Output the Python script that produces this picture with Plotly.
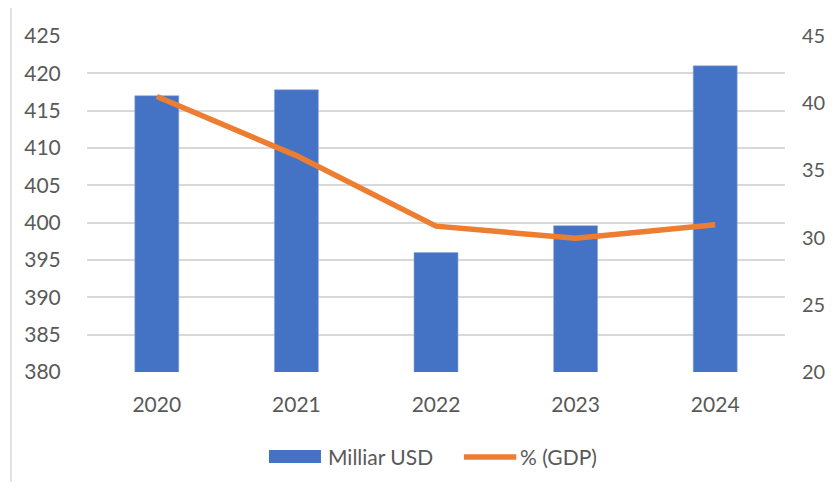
import plotly.graph_objects as go

years = ["2020", "2021", "2022", "2023", "2024"]
milliar_usd = [417.0, 417.8, 396.0, 399.6, 421.0]
pct_gdp = [40.5, 36.1, 30.85, 29.95, 30.95]
bar_name = "Milliar USD"
line_name = "% (GDP)"
left_ticks = [380, 385, 390, 395, 400, 405, 410, 415, 420, 425]
right_ticks = [20, 25, 30, 35, 40, 45]

BAR_COLOR = "#4472C4"
LINE_COLOR = "#ED7D31"
TEXT_COLOR = "#595959"
GRID_COLOR = "#D9D9D9"
FONT = "Lato"
FS = 21

fig = go.Figure()
fig.add_trace(go.Bar(x=years, y=milliar_usd, name=bar_name,
                     marker=dict(color=BAR_COLOR, line=dict(color="#8FAADC", width=0.6)),
                     showlegend=False))
fig.add_trace(go.Scatter(x=years, y=pct_gdp, name=line_name, mode="lines",
                         line=dict(color=LINE_COLOR, width=5.5),
                         yaxis="y2", showlegend=False))

# Manual legend (paper coordinates)
fig.add_shape(type="rect", xref="paper", yref="paper",
              x0=0.2607, x1=0.3352, y0=-0.2708, y1=-0.2321,
              fillcolor=BAR_COLOR, line=dict(width=0))
fig.add_annotation(xref="paper", yref="paper", x=0.3420, y=-0.2515,
                   text=bar_name, showarrow=False, xanchor="left", yanchor="middle",
                   font=dict(family=FONT, size=FS, color=TEXT_COLOR))
fig.add_shape(type="line", xref="paper", yref="paper",
              x0=0.5400, x1=0.6150, y0=-0.2530, y1=-0.2530,
              line=dict(color=LINE_COLOR, width=5.5))
fig.add_annotation(xref="paper", yref="paper", x=0.6180, y=-0.2515,
                   text=line_name, showarrow=False, xanchor="left", yanchor="middle",
                   font=dict(family=FONT, size=FS, color=TEXT_COLOR))

# Chart area border (only left and top edges are visible in the crop)
fig.add_shape(type="path", xref="paper", yref="paper",
              path="M -0.1089,-0.60 L -0.1089,1.0863 L 1.30,1.0863",
              line=dict(color="#D9D9D9", width=1.5), layer="below")

fig.update_layout(
    width=819, height=474,
    margin=dict(l=79, r=42, t=28, b=110, autoexpand=False),
    paper_bgcolor="white", plot_bgcolor="white",
    font=dict(family=FONT, size=FS, color=TEXT_COLOR),
    bargap=0.685,
    showlegend=False,
    xaxis=dict(showgrid=False, showline=False, zeroline=False, automargin=False,
               ticks="outside", ticklen=14, tickcolor="rgba(0,0,0,0)",
               tickfont=dict(family=FONT, size=FS, color=TEXT_COLOR)),
    yaxis=dict(range=[380, 425], tickvals=left_ticks, showgrid=True, automargin=False,
               gridcolor=GRID_COLOR, gridwidth=1.5, zeroline=False, showline=False,
               ticks="outside", ticklen=21, tickcolor="rgba(0,0,0,0)",
               tickfont=dict(family=FONT, size=FS, color=TEXT_COLOR)),
    yaxis2=dict(range=[20, 45], tickvals=right_ticks, overlaying="y", side="right",
                showgrid=False, zeroline=False, showline=False, automargin=False,
                ticks="outside", ticklen=12, tickcolor="rgba(0,0,0,0)",
                tickfont=dict(family=FONT, size=20, color=TEXT_COLOR)),
)

fig.write_html("out.html")
